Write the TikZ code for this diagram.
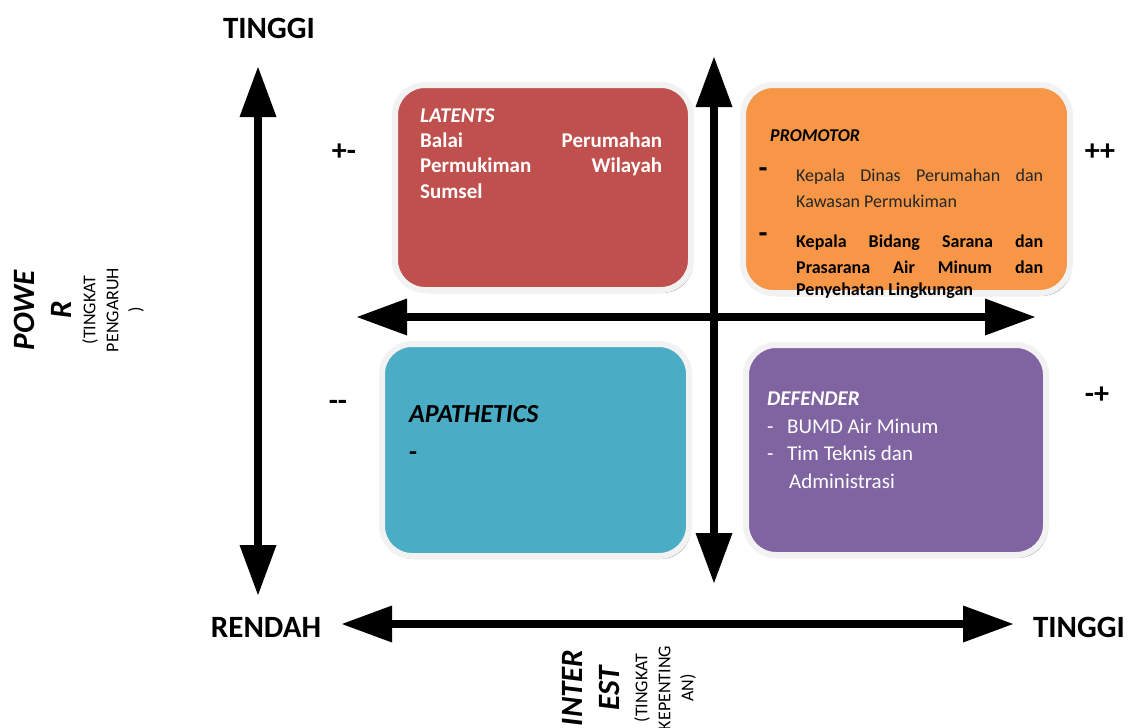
\documentclass[tikz,border=0pt]{standalone}
\usepackage{fontspec}
\setmainfont{Carlito}
\usetikzlibrary{arrows.meta,shadows}

\definecolor{latred}{HTML}{C0504D}
\definecolor{promorange}{HTML}{F79646}
\definecolor{apablue}{HTML}{4BACC6}
\definecolor{defpurple}{HTML}{8064A2}

\newcommand{\setfs}[2]{\fontsize{#1}{#2}\selectfont}
\newcommand{\jline}[2]{\makebox[#1][s]{#2}}

\tikzset{
  quadbox/.style={draw=white!95!black, line width=6pt, rounded corners=30pt,
    drop shadow={shadow xshift=2pt, shadow yshift=-3pt, opacity=0.3, fill=black}},
  axisarrow/.style={line width=8.5pt,
    {Triangle[length=50pt,width=37pt,line width=0pt]}-{Triangle[length=50pt,width=37pt,line width=0pt]}},
  axislbl/.style={inner sep=0pt, font=\bfseries\setfs{31}{37}},
  signlbl/.style={inner sep=0pt, font=\bfseries\setfs{30}{30}},
  boxtxt/.style={anchor=base west, inner sep=0pt},
}

\begin{document}
\begin{tikzpicture}[x=1pt, y=-1pt]
  \useasboundingbox (0,0) rectangle (1130,728);

  % quadrant boxes
  \node[quadbox, fill=latred, minimum width=296pt, minimum height=205pt] (latents) at (543,187.5) {};
  \node[quadbox, fill=promorange, minimum width=327pt, minimum height=208pt] (promotor) at (906.5,189) {};
  \node[quadbox, fill=apablue, minimum width=307pt, minimum height=212pt] (apathetics) at (535.5,450) {};
  \node[quadbox, fill=defpurple, minimum width=300pt, minimum height=210pt] (defender) at (896,450) {};

  % axes
  \coordinate (powtop) at (258,67);
  \coordinate (powbot) at (258,595);
  \coordinate (intleft) at (342,624);
  \coordinate (intright) at (1013,624);
  \coordinate (midtop) at (714,57);
  \coordinate (midbot) at (714,583);
  \coordinate (midleft) at (357,317);
  \coordinate (midright) at (1035,317);
  \draw[axisarrow] (powtop) -- (powbot);
  \draw[axisarrow] (intleft) -- (intright);
  \draw[axisarrow] (midtop) -- (midbot);
  \draw[axisarrow] (midleft) -- (midright);

  % axis labels
  \node[axislbl] (powhigh) at (269,28) {TINGGI};
  \node[axislbl] (lowlbl) at (266,627) {RENDAH};
  \node[axislbl] (inthigh) at (1079,627) {TINGGI};
  \node[rotate=90, align=center, inner sep=0pt, font=\bfseries\itshape\setfs{31}{37}] (powlbl) at (43,310) {POWE\\R};
  \node[rotate=90, align=center, inner sep=0pt, font=\setfs{18}{23}] (powsub) at (113,310) {(TINGKAT\\PENGARUH\\)};
  \node[rotate=90, align=center, inner sep=0pt, font=\bfseries\itshape\setfs{31}{37}] (intlbl) at (591,688) {INTER\\EST};
  \node[rotate=90, align=center, inner sep=0pt, font=\setfs{18}{23}] (intsub) at (665,688) {(TINGKAT\\KEPENTING\\AN)};

  % quadrant signs
  \foreach \nm/\px/\py/\sg in {pm/344/152/{+-}, pp/1100/152/{++}, mm/338/405/{{-}{-}}, mp/1097/395/{-+}} {
    \node[signlbl] (sign-\nm) at (\px,\py) {\sg};
  }

  % latents
  \node[boxtxt, text=white, font=\bfseries\itshape\setfs{21}{26}] (lat-title) at (420,122) {LATENTS};
  \foreach \yb/\ln in {147/{\jline{242pt}{Balai Perumahan}}, 172/{\jline{242pt}{Permukiman Wilayah}}, 198/{Sumsel}} {
    \node[boxtxt, text=white, font=\bfseries\setfs{21}{26}] (lat-\yb) at (420,\yb) {\ln};
  }

  % promotor
  \node[boxtxt, font=\bfseries\itshape\setfs{18}{24}] (pro-title) at (770,141) {PROMOTOR};
  \foreach \yb in {179.5, 244.5} {
    \node[anchor=base, inner sep=0pt, font=\bfseries\setfs{20}{20}] (pro-dash-\yb) at (763,\yb) {\scalebox{1}[1.8]{–}};
  }
  \foreach \yb/\ln in {181/{\jline{247pt}{Kepala Dinas Perumahan dan}}, 207/{Kawasan Permukiman}} {
    \node[boxtxt, text=black!85, font=\setfs{18}{24}] (pro-a-\yb) at (796,\yb) {\ln};
  }
  \foreach \yb/\ln in {247/{\jline{247pt}{Kepala Bidang Sarana dan}}, 273/{\jline{247pt}{Prasarana Air Minum dan}}, 295/{Penyehatan Lingkungan}} {
    \node[boxtxt, font=\bfseries\setfs{18}{24}] (pro-b-\yb) at (796,\yb) {\ln};
  }

  % apathetics
  \node[boxtxt, font=\bfseries\itshape\setfs{26}{30}] (apa-title) at (409,422) {APATHETICS};
  \node[boxtxt, font=\bfseries\setfs{26}{30}] (apa-dash) at (409,460) {-};

  % defender
  \node[boxtxt, text=white, font=\bfseries\itshape\setfs{21}{26}] (def-title) at (767,405) {DEFENDER};
  \foreach \yb/\ln in {433/{\makebox[20pt][l]{-}BUMD Air Minum}, 460/{\makebox[20pt][l]{-}Tim Teknis dan}} {
    \node[boxtxt, text=white, font=\setfs{21}{26}] (def-\yb) at (767,\yb) {\ln};
  }
  \node[boxtxt, text=white, font=\setfs{21}{26}] (def-488) at (789,488) {Administrasi};
\end{tikzpicture}
\end{document}
